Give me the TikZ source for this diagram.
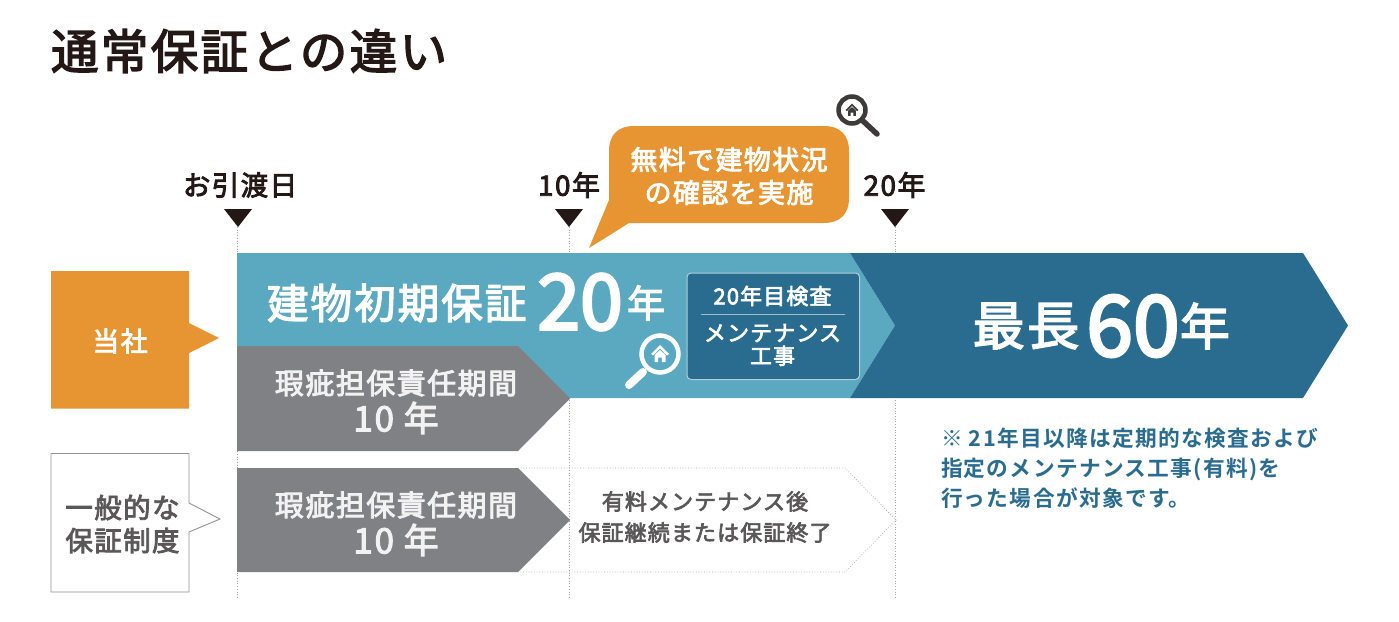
\documentclass[tikz,border=0pt]{standalone}
\usepackage{fontspec}
\setmainfont{Noto Sans CJK JP}
\newfontfamily\jr[LetterSpace=5,FakeBold=3]{Noto Sans CJK JP}
\newfontfamily\jb[LetterSpace=6]{Noto Sans CJK JP Bold}
\newfontfamily\jtight[FakeBold=3.5]{Noto Sans CJK JP}
\newcommand\fsz[2]{\fontsize{#1}{#2}\selectfont}
\definecolor{orangeC}{HTML}{E79433}
\definecolor{lightC}{HTML}{5AA9C0}
\definecolor{darkC}{HTML}{2A6C90}
\definecolor{grayC}{HTML}{808184}
\definecolor{inkC}{HTML}{231815}
\definecolor{softC}{HTML}{595757}
\definecolor{iconC}{HTML}{3E3A39}
\tikzset{
  lbl/.style={inner sep=0pt,outer sep=0pt,align=center},
  whitelbl/.style={lbl,text=white},
  guide/.style={draw=gray!70,dotted,line width=0.7pt},
  marker/.style={fill=inkC,draw=none},
  house/.pic={
    \fill[pic actions] (-9,0) -- (0,-9) -- (9,0) -- (7,1.6) -- (0,-5.6) -- (-7,1.6) -- cycle;
    \fill[pic actions] (-5.5,1) -- (0,-4) -- (5.5,1) -- (5.5,8) -- (1.8,8) -- (1.8,3.5) -- (-1.8,3.5) -- (-1.8,8) -- (-5.5,8) -- cycle;
  }
}
\begin{document}
\begin{tikzpicture}[x=1pt,y=-1pt]
\useasboundingbox[fill=white] (0,0) rectangle (1399,621);
% title
\node[lbl,anchor=west,text=inkC,font={\jr\fsz{47.5}{52}}] (title) at (51,51) {通常保証との違い};
% guide coordinates
\coordinate (g0a) at (237,227); \coordinate (g0b) at (237,598);
\coordinate (g1a) at (569,227); \coordinate (g1b) at (569,598);
\coordinate (g2a) at (895,227); \coordinate (g2b) at (895,598);
\draw[guide] (g0a) -- (g0b);
\draw[guide] (g1a) -- (g1b);
\draw[guide] (g2a) -- (g2b);
% markers
\fill[marker] (224,209) -- (252,209) -- (238,227) -- cycle;
\fill[marker] (555,209) -- (583,209) -- (569,227) -- cycle;
\fill[marker] (881,209) -- (909,209) -- (895,227) -- cycle;
\node[lbl,text=inkC,font={\jr\fsz{27.5}{30}}] (d0) at (240,185) {お引渡日};
\node[lbl,text=inkC,font={\jr\fsz{28}{30}}] (d1) at (569,185) {10年};
\node[lbl,text=inkC,font={\jr\fsz{28}{30}}] (d2) at (894.5,185) {20年};
% main arrows
\fill[lightC] (237,253) -- (850,253) -- (895,325.5) -- (850,398) -- (237,398) -- cycle;
\fill[darkC] (850,253) -- (1303,253) -- (1348,325.5) -- (1303,398) -- (850,398) -- (895,325.5) -- cycle;
\fill[grayC] (237,346) -- (518,346) -- (570,398.5) -- (518,451) -- (237,451) -- cycle;
\fill[grayC] (237,468) -- (518,468) -- (570,520) -- (518,572) -- (237,572) -- cycle;
\draw[gray!70,dotted,line width=0.7pt] (518,468) -- (845,468) -- (896,520) -- (845,572) -- (518,572);
% left labels
\fill[orangeC] (51,271) -- (189,271) -- (189,323) -- (219,338) -- (189,353) -- (189,408.5) -- (51,408.5) -- cycle;
\node[whitelbl,font={\jr\fsz{27}{30}}] (us) at (120,341) {当社};
\draw[gray!85,line width=0.9pt,fill=white] (51,453.5) -- (189,453.5) -- (189,503) -- (220,519) -- (189,532) -- (189,592) -- (51,592) -- cycle;
\node[lbl,text=softC,font={\jr\fsz{27.5}{33}}] (gen) at (122.5,524) {一般的な\\保証制度};
% callout
\fill[orangeC] (634,126) -- (824,126) .. controls (840,126) and (849,135) .. (849,151)
  -- (849,198) .. controls (849,214) and (840,223) .. (824,223)
  -- (629,223) -- (589,248) -- (609,200)
  -- (609,151) .. controls (609,135) and (618,126) .. (634,126) -- cycle;
\node[whitelbl,font={\jr\fsz{27}{33}}] (call) at (729,176) {無料で建物状況\\の確認を実施};
% magnifier top
\coordinate (m1) at (852,110);
\coordinate (m1h) at (877,134);
\draw[iconC,line width=4.5pt,fill=white] (m1) circle (13.5);
\draw[iconC,line width=5.5pt,line cap=round] (863,121) -- (m1h);
\pic[iconC,scale=0.72] at (852,110) {house};
% main text
\node[whitelbl,anchor=west,font={\jr\fsz{41.5}{46}}] (a1) at (267,303) {建物初期保証};
\node[whitelbl,font={\jtight\fsz{77}{80}}] (a2) at (580,302) {20};
\node[whitelbl,font={\jr\fsz{38}{44}}] (a3) at (646,303) {年};
% magnifier white
\coordinate (m2) at (660,354);
\coordinate (m2h) at (629,385);
\draw[white,line width=4.5pt] (m2) circle (18.5);
\draw[white,line width=8pt,line cap=round] (643,372) -- (m2h);
\pic[white,scale=1.0] at (660,354) {house};
% inner box
\draw[draw=white!65!darkC,fill=darkC,line width=1pt,rounded corners=4pt] (687,273) rectangle (859.5,379.5);
\node[whitelbl,font={\jr\fsz{22}{28}}] (b1) at (772.5,296) {20年目検査};
\coordinate (r1) at (701,314.5); \coordinate (r2) at (845,314.5);
\draw[white!55!darkC,line width=1pt] (r1) -- (r2);
\node[whitelbl,font={\jr\fsz{22}{23}}] (b2) at (772.5,345) {メンテナンス\\工事};
% dark text
\node[whitelbl,font={\jr\fsz{52}{56}}] (c1) at (1026,326) {最長};
\node[whitelbl,font={\jtight\fsz{84}{88}}] (c2) at (1133,326) {60};
\node[whitelbl,font={\jr\fsz{50}{56}}] (c3) at (1205,326) {年};
% gray text
\node[whitelbl,text=white!90!gray,font={\jr\fsz{29}{36}}] (g1) at (396,383) {瑕疵担保責任期間};
\node[whitelbl,text=white!90!gray,font={\jr\fsz{35}{36}}] (g1b) at (396,418) {10 年};
\node[whitelbl,text=white!90!gray,font={\jr\fsz{29}{36}}] (g2) at (396,505) {瑕疵担保責任期間};
\node[whitelbl,text=white!90!gray,font={\jr\fsz{35}{36}}] (g2b) at (396,540) {10 年};
\node[lbl,text=softC,font={\jr\fsz{22}{31}}] (g3) at (705,517) {有料メンテナンス後\\保証継続または保証終了};
% note
\node[lbl,anchor=north west,align=left,text=darkC,font={\jb\fsz{21.7}{30}}] (note) at (941,428) {※ 21年目以降は定期的な検査および\\指定のメンテナンス工事(有料)を\\行った場合が対象です。};
\end{tikzpicture}
\end{document}
